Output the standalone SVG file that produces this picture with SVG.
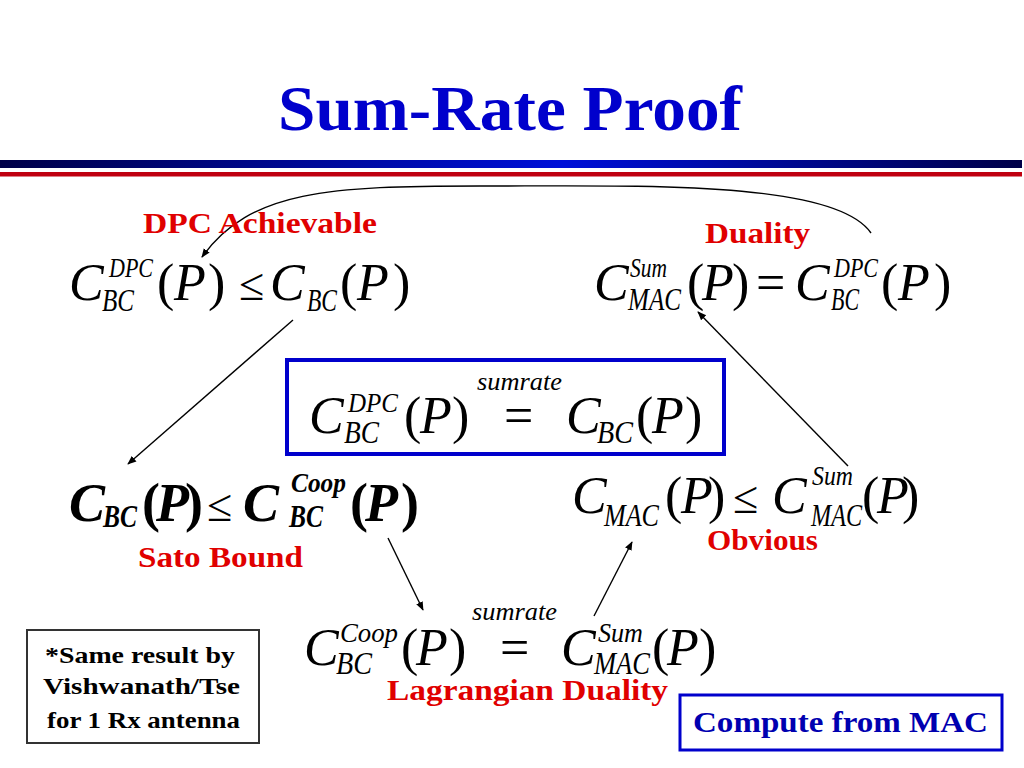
<svg xmlns="http://www.w3.org/2000/svg" width="1024" height="768" viewBox="0 0 1024 768">
<defs>
<linearGradient id="bar" x1="0" y1="0" x2="1" y2="0">
<stop offset="0" stop-color="#000048"/>
<stop offset="0.55" stop-color="#0010d8"/>
<stop offset="1" stop-color="#000048"/>
</linearGradient>
<marker id="ah" viewBox="0 0 10 10" refX="9" refY="5" markerWidth="9" markerHeight="9" markerUnits="userSpaceOnUse" orient="auto">
<path d="M0,1 L10,5 L0,9 z" fill="#000"/>
</marker>
<style>
text{font-family:"Liberation Serif","Times New Roman",serif;fill:#000}
.i{font-style:italic}
.b{font-weight:bold}
.g{font-size:52px}
.gb{font-size:54px;font-weight:bold}
.s{font-size:28px;font-style:italic}
.d{font-size:31px;font-style:italic}
.le{font-size:46px}
.lbl{font-weight:bold;fill:#e00000;font-size:29px}
.con{fill:none;stroke:#000;stroke-width:1.4;marker-end:url(#ah)}
</style>
</defs>
<rect width="1024" height="768" fill="#fff"/>
<text x="278" y="130" textLength="464" lengthAdjust="spacingAndGlyphs" style="font-weight:bold;font-size:64px;fill:#0000cc">Sum-Rate Proof</text>
<rect x="0" y="160" width="1022" height="8" fill="url(#bar)"/>
<rect x="0" y="172" width="1022" height="4.5" fill="#c00010"/>

<g id="connectors">
<path class="con" d="M871,233 C835,180 640,186 480,186 C330,186 250,190 202,257"/>
<line class="con" x1="293" y1="320" x2="128" y2="464"/>
<line class="con" x1="388" y1="538" x2="423" y2="610"/>
<line class="con" x1="594" y1="616" x2="632" y2="542"/>
<line class="con" x1="848" y1="466" x2="698" y2="312"/>
</g>

<g id="n-dpc-achievable">
<text class="lbl" x="143" y="233" textLength="234" lengthAdjust="spacingAndGlyphs">DPC Achievable</text>
<text class="g i" x="69" y="300">C</text>
<text class="s" x="109" y="277" textLength="44" lengthAdjust="spacingAndGlyphs">DPC</text>
<text class="d" x="102" y="311" textLength="32" lengthAdjust="spacingAndGlyphs">BC</text>
<text class="g" x="157" y="300">(</text>
<text class="g i" x="174" y="300">P</text>
<text class="g" x="208" y="300">)</text>
<text class="le" x="239" y="300">≤</text>
<text class="g i" x="270" y="300">C</text>
<text class="d" x="307" y="311" textLength="30" lengthAdjust="spacingAndGlyphs">BC</text>
<text class="g" x="340" y="300">(</text>
<text class="g i" x="357" y="300">P</text>
<text class="g" x="393" y="300">)</text>
</g>

<g id="n-duality">
<text class="lbl" x="705" y="243" textLength="105" lengthAdjust="spacingAndGlyphs">Duality</text>
<text class="g i" x="594" y="300">C</text>
<text class="s" x="630" y="277" textLength="37" lengthAdjust="spacingAndGlyphs">Sum</text>
<text class="d" x="628" y="310" textLength="53" lengthAdjust="spacingAndGlyphs">MAC</text>
<text class="g" x="687" y="300">(</text>
<text class="g i" x="702" y="300">P</text>
<text class="g" x="732" y="300">)</text>
<text class="g" x="756" y="300">=</text>
<text class="g i" x="795" y="300">C</text>
<text class="s" x="834" y="277" textLength="44" lengthAdjust="spacingAndGlyphs">DPC</text>
<text class="d" x="831" y="310" textLength="28" lengthAdjust="spacingAndGlyphs">BC</text>
<text class="g" x="881" y="300">(</text>
<text class="g i" x="898" y="300">P</text>
<text class="g" x="934" y="300">)</text>
</g>

<g id="n-sumrate-box">
<rect x="287" y="360" width="437" height="94" fill="none" stroke="#0000cc" stroke-width="4"/>
<text class="i" x="477" y="390" style="font-size:26px" textLength="85" lengthAdjust="spacingAndGlyphs">sumrate</text>
<text class="g i" x="309" y="433">C</text>
<text class="s" x="348" y="412" textLength="50" lengthAdjust="spacingAndGlyphs">DPC</text>
<text class="d" x="344" y="443" textLength="35" lengthAdjust="spacingAndGlyphs">BC</text>
<text class="g" x="404" y="433">(</text>
<text class="g i" x="420" y="433">P</text>
<text class="g" x="452" y="433">)</text>
<text class="g" x="504" y="433">=</text>
<text class="g i" x="566" y="433">C</text>
<text class="d" x="597" y="443" textLength="36" lengthAdjust="spacingAndGlyphs">BC</text>
<text class="g" x="636" y="433">(</text>
<text class="g i" x="652" y="433">P</text>
<text class="g" x="685" y="433">)</text>
</g>

<g id="n-sato">
<text class="gb i" x="69" y="521">C</text>
<text class="d b" x="103" y="527" textLength="34" lengthAdjust="spacingAndGlyphs">BC</text>
<text class="gb" x="142" y="521">(</text>
<text class="gb i" x="156" y="521">P</text>
<text class="gb" x="185" y="521">)</text>
<text class="le" x="207" y="521">≤</text>
<text class="gb i" x="243" y="521">C</text>
<text class="s b" x="291" y="492" textLength="55" lengthAdjust="spacingAndGlyphs">Coop</text>
<text class="d b" x="289" y="527" textLength="34" lengthAdjust="spacingAndGlyphs">BC</text>
<text class="gb" x="350" y="521">(</text>
<text class="gb i" x="365" y="521">P</text>
<text class="gb" x="401" y="521">)</text>
<text class="lbl" x="138" y="567" textLength="165" lengthAdjust="spacingAndGlyphs">Sato Bound</text>
</g>

<g id="n-obvious">
<text class="g i" x="572" y="513">C</text>
<text class="d" x="604" y="526" textLength="55" lengthAdjust="spacingAndGlyphs">MAC</text>
<text class="g" x="665" y="513">(</text>
<text class="g i" x="681" y="513">P</text>
<text class="g" x="708" y="513">)</text>
<text class="le" x="733" y="513">≤</text>
<text class="g i" x="772" y="513">C</text>
<text class="s" x="812" y="485" textLength="41" lengthAdjust="spacingAndGlyphs">Sum</text>
<text class="d" x="811" y="526" textLength="51" lengthAdjust="spacingAndGlyphs">MAC</text>
<text class="g" x="862" y="513">(</text>
<text class="g i" x="877" y="513">P</text>
<text class="g" x="902" y="513">)</text>
<text class="lbl" x="707" y="550" textLength="111" lengthAdjust="spacingAndGlyphs">Obvious</text>
</g>

<g id="n-lagrangian">
<text class="i" x="472" y="620" style="font-size:26px" textLength="85" lengthAdjust="spacingAndGlyphs">sumrate</text>
<text class="g i" x="304" y="665">C</text>
<text class="s" x="340" y="642" textLength="58" lengthAdjust="spacingAndGlyphs">Coop</text>
<text class="d" x="336" y="674" textLength="36" lengthAdjust="spacingAndGlyphs">BC</text>
<text class="g" x="401" y="665">(</text>
<text class="g i" x="416" y="665">P</text>
<text class="g" x="449" y="665">)</text>
<text class="g" x="500" y="665">=</text>
<text class="g i" x="561" y="665">C</text>
<text class="s" x="598" y="642" textLength="45" lengthAdjust="spacingAndGlyphs">Sum</text>
<text class="d" x="594" y="674" textLength="56" lengthAdjust="spacingAndGlyphs">MAC</text>
<text class="g" x="652" y="665">(</text>
<text class="g i" x="667" y="665">P</text>
<text class="g" x="699" y="665">)</text>
<text class="lbl" x="387" y="700" textLength="281" lengthAdjust="spacingAndGlyphs">Lagrangian Duality</text>
</g>

<g id="n-note">
<rect x="27" y="630" width="232" height="113" fill="#fff" stroke="#333" stroke-width="2"/>
<text class="b" x="45" y="663" style="font-size:23px" textLength="190" lengthAdjust="spacingAndGlyphs">*Same result by</text>
<text class="b" x="43" y="694" style="font-size:23px" textLength="197" lengthAdjust="spacingAndGlyphs">Vishwanath/Tse</text>
<text class="b" x="47" y="728" style="font-size:23px" textLength="193" lengthAdjust="spacingAndGlyphs">for 1 Rx antenna</text>
</g>

<g id="n-compute">
<rect x="680" y="695" width="322" height="55" fill="#fff" stroke="#0000cc" stroke-width="3"/>
<text x="693" y="732" textLength="295" lengthAdjust="spacingAndGlyphs" style="font-weight:bold;font-size:29px;fill:#0000b0">Compute from MAC</text>
</g>
</svg>
